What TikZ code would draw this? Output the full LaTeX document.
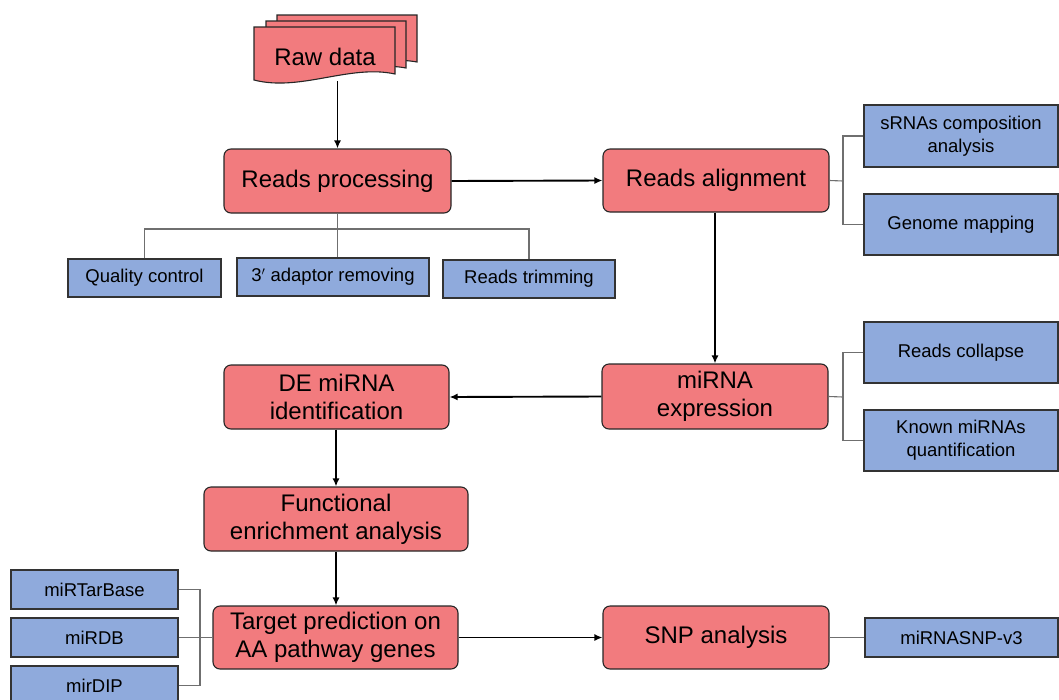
\documentclass[tikz,border=0pt]{standalone}
\usepackage{fontspec}
\setmainfont{Liberation Sans}
\usetikzlibrary{arrows.meta}
\definecolor{redfill}{HTML}{F27B7E}
\definecolor{bluefill}{HTML}{8FAADC}
\definecolor{conngray}{HTML}{6F6F6F}
\tikzset{
  redbox/.style={draw=black!85, line width=1.1pt, fill=redfill, rounded corners=7pt, align=center, inner sep=0pt,
    font=\fontsize{24}{28}\selectfont},
  bluebox/.style={draw=black!80, line width=1.3pt, fill=bluefill, align=center, inner sep=0pt,
    font=\fontsize{18.5}{23}\selectfont},
  flow/.style={draw=black, line width=1.9pt, -{Latex[length=8pt,width=7pt]}},
  conn/.style={draw=conngray, line width=1.1pt},
  sheet/.style={draw=black!85, line width=1.1pt, fill=redfill}
}
\newcommand{\bx}[5]{\node[#1, minimum width=#4-#2, minimum height=#5-#3] at ({(#2+#4)/2},{(#3+#5)/2})}
\begin{document}
\begin{tikzpicture}[x=1pt,y=-1pt]
\useasboundingbox (0,0) rectangle (1059,699);
\clip (0,0) rectangle (1059,699);
% Raw data (multi-document)
\draw[sheet] (277,15) -- (417,15) -- (417,62) .. controls (380,55) and (320,72) .. (277,62) -- cycle;
\draw[sheet] (266,21) -- (406,21) -- (406,68) .. controls (370,61) and (310,78) .. (266,68) -- cycle;
\draw[sheet] (254,27) -- (395,27) -- (395,74) .. controls (350,64) and (300,92) .. (254,80) -- cycle;
\node[inner sep=0pt, font=\fontsize{24}{28}\selectfont, minimum width=141, minimum height=40] (raw) at (325,57) {Raw data};
\coordinate (rawb) at (337.5,81);

\bx{redbox}{224}{149}{451}{213} (proc) {Reads processing};
\bx{redbox}{603}{149}{829}{212} (align) {Reads alignment};
\bx{bluebox}{864}{105}{1058}{167} (srna) {sRNAs composition\\analysis};
\bx{bluebox}{864}{194}{1058}{255} (genome) {Genome mapping};
\bx{bluebox}{68}{259}{221}{297} (qc) {Quality control};
\bx{bluebox}{237}{258}{429}{296} (adapt) {3$'$ adaptor removing};
\bx{bluebox}{443}{260}{615}{298} (trim) {Reads trimming};
\bx{redbox}{602}{364}{828}{429} (expr) {miRNA\\expression};
\bx{bluebox}{864}{322}{1058}{383} (collapse) {Reads collapse};
\bx{bluebox}{864}{410}{1058}{471} (known) {Known miRNAs\\quantification};
\bx{redbox}{224}{365}{449}{429} (de) {DE miRNA\\identification};
\bx{redbox}{204}{487}{468}{551} (func) {Functional\\enrichment analysis};
\bx{redbox}{213}{606}{458}{669} (target) {Target prediction on\\AA pathway genes};
\bx{bluebox}{11}{570}{178}{609} (tarbase) {miRTarBase};
\bx{bluebox}{11}{618}{178}{657} (mirdb) {miRDB};
\bx{bluebox}{11}{666}{178}{705} (mirdip) {mirDIP};
\bx{redbox}{603}{606}{829}{669} (snp) {SNP analysis};
\bx{bluebox}{865}{618}{1058}{657} (snpdb) {miRNASNP-v3};

% flow arrows
\draw[flow] (rawb) -- (proc.north);
\draw[flow] (proc.east) -- (align.west);
\draw[flow] (align.south -| 715,0) -- (expr.north -| 715,0);
\draw[flow] (expr.west) -- (de.east);
\draw[flow] (de.south -| 336,0) -- (func.north -| 336,0);
\draw[flow] (func.south -| 336,0) -- (target.north -| 336,0);
\draw[flow] (target.east) -- (snp.west);

% tree connectors
\coordinate (ja) at (843,181);
\draw[conn] (align.east) -- (ja);
\draw[conn] (srna.west) -| (ja) |- (genome.west);
\coordinate (jp) at (337.5,229);
\draw[conn] (proc.south) -- (adapt.north -| jp);
\draw[conn] (qc.north) |- (jp) -| (trim.north);
\coordinate (je) at (843,397);
\draw[conn] (expr.east) -- (je);
\draw[conn] (collapse.west) -| (je) |- (known.west);
\coordinate (jt) at (200,637);
\draw[conn] (mirdb.east) -- (target.west);
\draw[conn] (tarbase.east) -| (jt) |- (mirdip.east);
\draw[conn] (snp.east) -- (snpdb.west);
\end{tikzpicture}
\end{document}
